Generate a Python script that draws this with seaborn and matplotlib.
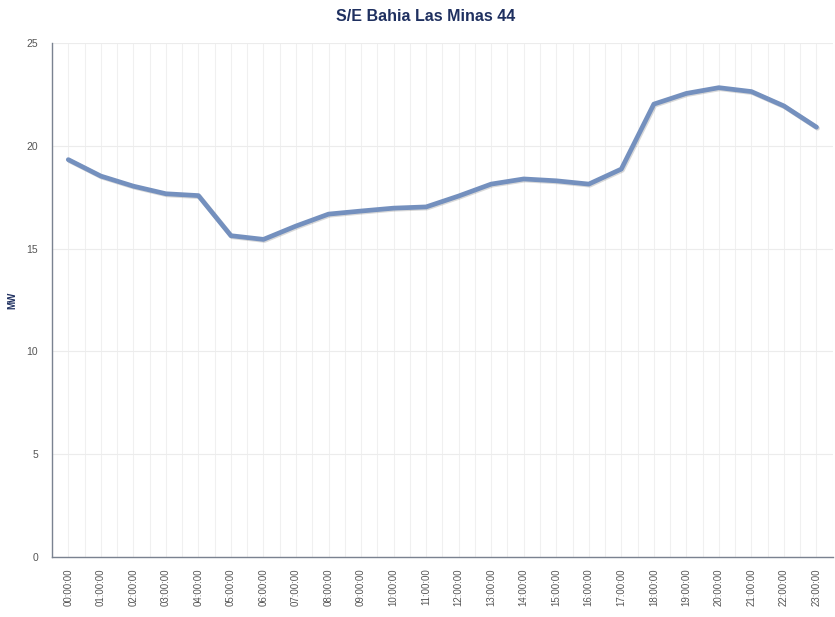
import pandas as pd
import matplotlib.pyplot as plt
import matplotlib.patheffects as pe
import seaborn as sns

# hourly demand readings
hours = ['00:00:00', '01:00:00', '02:00:00', '03:00:00', '04:00:00', '05:00:00',
         '06:00:00', '07:00:00', '08:00:00', '09:00:00', '10:00:00', '11:00:00',
         '12:00:00', '13:00:00', '14:00:00', '15:00:00', '16:00:00', '17:00:00',
         '18:00:00', '19:00:00', '20:00:00', '21:00:00', '22:00:00', '23:00:00']
mw = [19.33, 18.53, 18.04, 17.67, 17.58, 15.63, 15.45, 16.10, 16.68, 16.83, 16.97, 17.03,
      17.56, 18.14, 18.39, 18.30, 18.14, 18.87, 22.03, 22.55, 22.83, 22.64, 21.94, 20.91]

df = pd.DataFrame({'pos': range(len(hours)), 'MW': mw})

sns.set_style('white')
plt.rcParams['font.family'] = ['Liberation Sans', 'DejaVu Sans']
fig = plt.figure(figsize=(8.35, 6.17), dpi=100)
ax = fig.add_axes([0.0623, 0.0972, 0.935, 0.833])

sns.lineplot(data=df, x='pos', y='MW', ax=ax, color='#7490be', linewidth=3.4,
             path_effects=[pe.SimpleLineShadow(offset=(0.8, -0.8), alpha=0.15), pe.Normal()])

ax.set_xlim(-0.5, 23.4)
ax.set_ylim(0, 25)
ax.set_yticks([0, 5, 10, 15, 20, 25])
ax.set_xticks(range(len(hours)))
ax.set_xticklabels(hours, rotation=90, fontsize=7, color='#555555')
ax.set_xticks([i + 0.5 for i in range(-1, len(hours))], minor=True)
ax.tick_params(axis='x', which='major', length=0, pad=8)
ax.tick_params(axis='x', which='minor', length=4, color='#888888', width=0.8)
ax.tick_params(axis='y', length=0, labelsize=7.5, labelcolor='#555555', pad=10)

ax.grid(True, axis='x', which='both', color='#f0f0f0', linewidth=0.8)
ax.grid(True, axis='y', which='major', color='#ececec', linewidth=0.8)
ax.set_axisbelow(True)

for s in ['top', 'right']:
    ax.spines[s].set_visible(False)
for s in ['left', 'bottom']:
    ax.spines[s].set_color('#7a8290')
    ax.spines[s].set_linewidth(1.0)

ax.set_xlabel('')
ax.set_ylabel('MW', fontsize=7, fontweight='bold', color='#1f3060')
ax.yaxis.set_label_coords(-0.045, 0.5)
fig.suptitle('S/E Bahia Las Minas 44', x=0.51, y=0.985, fontsize=11.5,
             fontweight='bold', color='#1f3060')

fig.savefig('out.png', dpi=100)
